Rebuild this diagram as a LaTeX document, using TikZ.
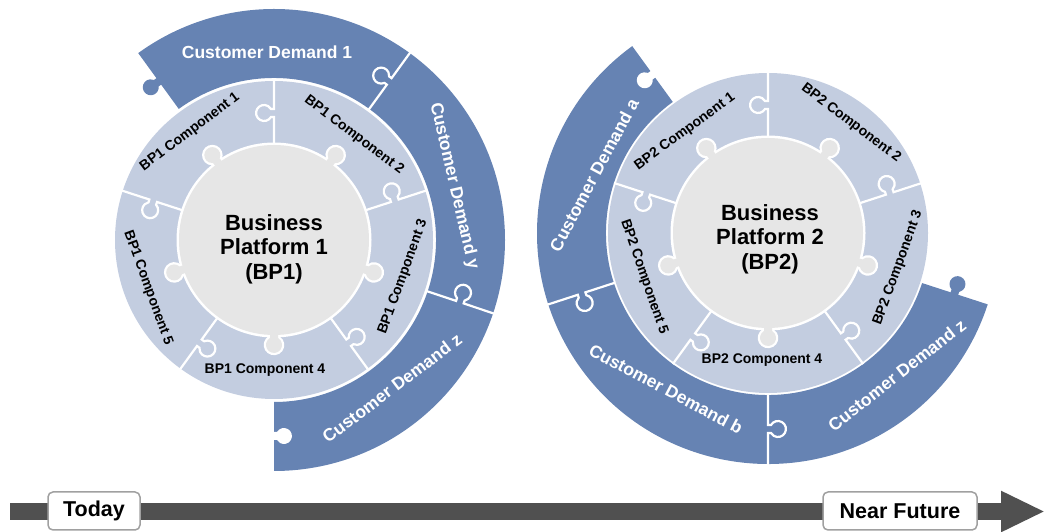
\documentclass[tikz,border=0pt]{standalone}
\usepackage{fontspec}
\setmainfont{Liberation Sans}
\usetikzlibrary{arrows.meta}
\definecolor{dblue}{HTML}{6683B3}
\definecolor{lblue}{HTML}{C3CDE0}
\definecolor{cgray}{HTML}{E6E6E6}
\definecolor{tgray}{HTML}{505050}
\definecolor{boxgray}{HTML}{A0A0A0}
\tikzset{
  comp/.style={font=\bfseries\fontsize{14}{16}\selectfont, text=black, inner sep=0pt},
  demand/.style={font=\bfseries\fontsize{17.5}{20}\selectfont, text=white, inner sep=0pt},
  coretext/.style={font=\bfseries\fontsize{22}{24.5}\selectfont, text=black, align=center, inner sep=0pt},
  sepline/.style={white, line width=2.2pt},
  tlbox/.style={draw=boxgray, fill=white, rounded corners=5pt, line width=1.5pt,
    font=\bfseries\fontsize{21.5}{23}\selectfont, text=black, minimum height=38pt, inner sep=0pt},
}
% knob on a radial line (in a rotated frame, x = radius); #1 = mid radius
\newcommand{\knobpart}[1]{({#1-4},3) arc[start angle=240, end angle=-60, radius=8pt] -- ({#1+4},3)}
\newcommand{\radsep}[4]{% angle, r1, r2, mid
  \draw[sepline, rotate=#1] (#2,0) -- ({#4-4},0) -- \knobpart{#4} -- ({#4+4},0) -- (#3,0);}
\newcommand{\tipknob}[3]{% angle, mid, colour
  \fill[#3, rotate=#1] ({#2-4},-1.2) -- \knobpart{#2} -- ({#2+4},-1.2) -- cycle;}
\newcommand{\coreknob}{(86,-4) -- (98,-4) arc[start angle=-150, end angle=150, radius=8pt] -- (86,4) -- cycle}
\begin{document}
\begin{tikzpicture}[x=1pt, y=1pt]
\useasboundingbox (0,0) rectangle (1046,532);

% ===================== BP1 =====================
\begin{scope}[shift={(274,292)}]
  \fill[dblue] (-90:231) arc[start angle=-90, end angle=126, radius=231pt]
     -- (126:162) arc[start angle=126, end angle=-90, radius=162pt] -- cycle;
  \tipknob{126}{196}{dblue}
  \tipknob{-90}{196}{white}
  \radsep{54}{158}{235}{196}
  \radsep{-18.5}{158}{235}{196}
  \fill[lblue] (0,0) circle[radius=159pt];
  \foreach \a in {90,162,18,-54,-126} {\radsep{\a}{90}{161}{127}}
  \draw[white, line width=5pt] (0,0) circle[radius=95pt];
  \foreach \a in {126,54,-18,-90,198} {\draw[white, line width=4.5pt, rotate=\a] \coreknob;}
  \fill[cgray] (0,0) circle[radius=95pt];
  \foreach \a in {126,54,-18,-90,198} {\fill[cgray, rotate=\a] \coreknob;}
\end{scope}
\node[coretext] (bp1) at (274,283) {Business\\Platform 1\\(BP1)};
\node[comp, rotate=37]  (c11) at (190,400) {BP1 Component 1};
\node[comp, rotate=-37] (c12) at (354,397) {BP1 Component 2};
\node[comp, rotate=70]  (c13) at (403,255) {BP1 Component 3};
\node[comp]             (c14) at (265,162) {BP1 Component 4};
\node[comp, rotate=-70] (c15) at (148,244) {BP1 Component 5};
\node[demand] (d11) at (267,480) {Customer Demand 1};
\node[demand, rotate=-77] (d1y) at (454,346) {Customer Demand y};
\node[demand, rotate=37] (d1z) at (392,144) {Customer Demand z};

% ===================== BP2 =====================
\begin{scope}[shift={(768,299)}]
  \fill[dblue] (126:231) arc[start angle=126, end angle=342, radius=231pt]
     -- (342:162) arc[start angle=342, end angle=126, radius=162pt] -- cycle;
  \tipknob{126}{196}{white}
  \tipknob{-18}{196}{dblue}
  \radsep{198}{158}{235}{196}
  \radsep{270}{158}{235}{196}
  \fill[lblue] (0,0) circle[radius=160pt];
  \foreach \a in {90,162,18,-54,-126} {\radsep{\a}{90}{162}{128}}
  \draw[white, line width=5pt] (0,0) circle[radius=95pt];
  \foreach \a in {126,54,-18,-90,198} {\draw[white, line width=4.5pt, rotate=\a] \coreknob;}
  \fill[cgray] (0,0) circle[radius=95pt];
  \foreach \a in {126,54,-18,-90,198} {\fill[cgray, rotate=\a] \coreknob;}
\end{scope}
\node[coretext] (bp2) at (770,293) {Business\\Platform 2\\(BP2)};
\node[comp, rotate=36]  (c21) at (685,400) {BP2 Component 1};
\node[comp, rotate=-37] (c22) at (851,409) {BP2 Component 2};
\node[comp, rotate=70]  (c23) at (898,264) {BP2 Component 3};
\node[comp]             (c24) at (762,172) {BP2 Component 4};
\node[comp, rotate=-71] (c25) at (644,255) {BP2 Component 5};
\node[demand, rotate=62]  (d2a) at (594,357) {Customer Demand a};
\node[demand, rotate=-28] (d2b) at (666,143) {Customer Demand b};
\node[demand, rotate=38]  (d2z) at (897,157) {Customer Demand z};

% ===================== timeline =====================
\coordinate (tstart) at (10,20.5);
\coordinate (tend) at (1045,20.5);
\draw[tgray, line width=17pt, -{Triangle[length=44pt, width=38pt]}] (tstart) -- (tend);
\node[tlbox, minimum width=92pt] (today) at (94,21) {Today};
\node[tlbox, minimum width=154pt] (future) at (900,21) {Near Future};
\end{tikzpicture}
\end{document}
